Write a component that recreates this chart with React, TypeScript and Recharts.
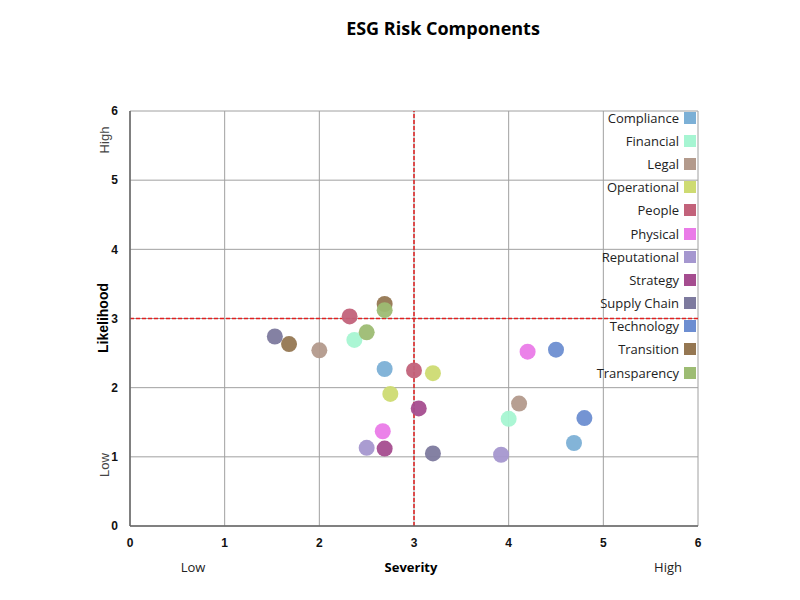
import React from 'react';
import { ScatterChart, Scatter, XAxis, YAxis, CartesianGrid, ReferenceLine } from 'recharts';

const categories = ['Compliance', 'Financial', 'Legal', 'Operational', 'People', 'Physical', 'Reputational', 'Strategy', 'Supply Chain', 'Technology', 'Transition', 'Transparency'];
const colors = ['#7cb0d6', '#a6f5d2', '#b39a8c', '#cedb72', '#c2627a', '#ea7be8', '#a597cf', '#a54d8f', '#7d7a9e', '#6d8ed1', '#957752', '#9dbc73'];

const compliance = [{ x: 2.69, y: 2.27 }, { x: 4.69, y: 1.2 }];
const financial = [{ x: 2.37, y: 2.69 }, { x: 4.0, y: 1.55 }];
const legal = [{ x: 2.0, y: 2.54 }, { x: 4.11, y: 1.77 }];
const operational = [{ x: 3.2, y: 2.21 }, { x: 2.75, y: 1.91 }];
const people = [{ x: 2.32, y: 3.03 }, { x: 3.0, y: 2.25 }];
const physical = [{ x: 4.2, y: 2.52 }, { x: 2.67, y: 1.37 }];
const reputational = [{ x: 2.5, y: 1.13 }, { x: 3.92, y: 1.03 }];
const strategy = [{ x: 3.05, y: 1.7 }, { x: 2.69, y: 1.12 }];
const supplyChain = [{ x: 1.53, y: 2.74 }, { x: 3.2, y: 1.05 }];
const technology = [{ x: 4.5, y: 2.55 }, { x: 4.8, y: 1.56 }];
const transition = [{ x: 1.68, y: 2.63 }, { x: 2.69, y: 3.21 }];
const transparency = [{ x: 2.5, y: 2.8 }, { x: 2.69, y: 3.12 }];

const seriesData = [compliance, financial, legal, operational, people, physical, reputational, strategy, supplyChain, technology, transition, transparency];
const ticks = [0, 1, 2, 3, 4, 5, 6];

const FONT = "'Open Sans', sans-serif";
const TICKFONT = "'Liberation Sans', Arial, sans-serif";

const Dot = (props: any) => {
  const { cx, cy, fill } = props;
  return <circle cx={cx} cy={cy} r={8} fill={fill} fillOpacity={0.95} />;
};

const abs = (x: number, y: number, extra: React.CSSProperties = {}): React.CSSProperties => ({
  position: 'absolute',
  left: x,
  top: y,
  transform: 'translate(-50%, -50%)',
  whiteSpace: 'nowrap',
  ...extra,
});

export default function App() {
  return (
    <div style={{ position: 'relative', width: 800, height: 600, background: '#fff' }}>
      <ScatterChart width={800} height={600} margin={{ top: 103, right: 110, bottom: 52, left: 82 }}>
        <CartesianGrid stroke="#a0a0a0" strokeWidth={1} />
        <XAxis
          type="number"
          dataKey="x"
          domain={[0, 6]}
          ticks={ticks}
          height={30}
          tickLine={false}
          tickMargin={6}
          axisLine={{ stroke: '#666', strokeWidth: 1.5 }}
          tick={{ fill: '#111', fontSize: 12, fontWeight: 'bold', fontFamily: TICKFONT }}
        />
        <YAxis
          type="number"
          dataKey="y"
          domain={[0, 6]}
          ticks={ticks}
          width={40}
          tickLine={false}
          tickMargin={6}
          axisLine={{ stroke: '#666', strokeWidth: 1.5 }}
          tick={{ fill: '#111', fontSize: 12, fontWeight: 'bold', fontFamily: TICKFONT }}
        />
        <ReferenceLine x={3} stroke="#e02020" strokeDasharray="4 2" strokeWidth={1.5} />
        <ReferenceLine y={3} stroke="#e02020" strokeDasharray="4 2" strokeWidth={1.5} />
        {seriesData.map((d, i) => (
          <Scatter key={categories[i]} name={categories[i]} data={d} fill={colors[i]} shape={Dot} isAnimationActive={false} />
        ))}
      </ScatterChart>

      <div style={abs(435, 20, { fontFamily: FONT, fontWeight: 700, fontSize: 18, color: '#000' })}>ESG Risk Components</div>

      <div style={abs(95, 310, { fontFamily: TICKFONT, fontWeight: 700, fontSize: 14, transform: 'translate(-50%, -50%) rotate(-90deg)' })}>Likelihood</div>
      <div style={abs(96, 132, { fontFamily: TICKFONT, fontSize: 13, color: '#444', transform: 'translate(-50%, -50%) rotate(-90deg)' })}>High</div>
      <div style={abs(96, 457, { fontFamily: TICKFONT, fontSize: 13, color: '#444', transform: 'translate(-50%, -50%) rotate(-90deg)' })}>Low</div>

      <div style={abs(185, 559, { fontFamily: FONT, fontSize: 13, color: '#222' })}>Low</div>
      <div style={abs(403, 559, { fontFamily: FONT, fontSize: 13, fontWeight: 700, color: '#000' })}>Severity</div>
      <div style={abs(660, 559, { fontFamily: FONT, fontSize: 13, color: '#222' })}>High</div>

      <div style={{ position: 'absolute', right: 800 - 688, top: 98, fontFamily: FONT, fontSize: 13, color: '#222' }}>
        {categories.map((c, i) => (
          <div key={c} style={{ display: 'flex', alignItems: 'center', justifyContent: 'flex-end', height: 23.2 }}>
            <span style={{ marginRight: 5 }}>{c}</span>
            <span style={{ display: 'inline-block', width: 12, height: 12, background: colors[i] }} />
          </div>
        ))}
      </div>
    </div>
  );
}
